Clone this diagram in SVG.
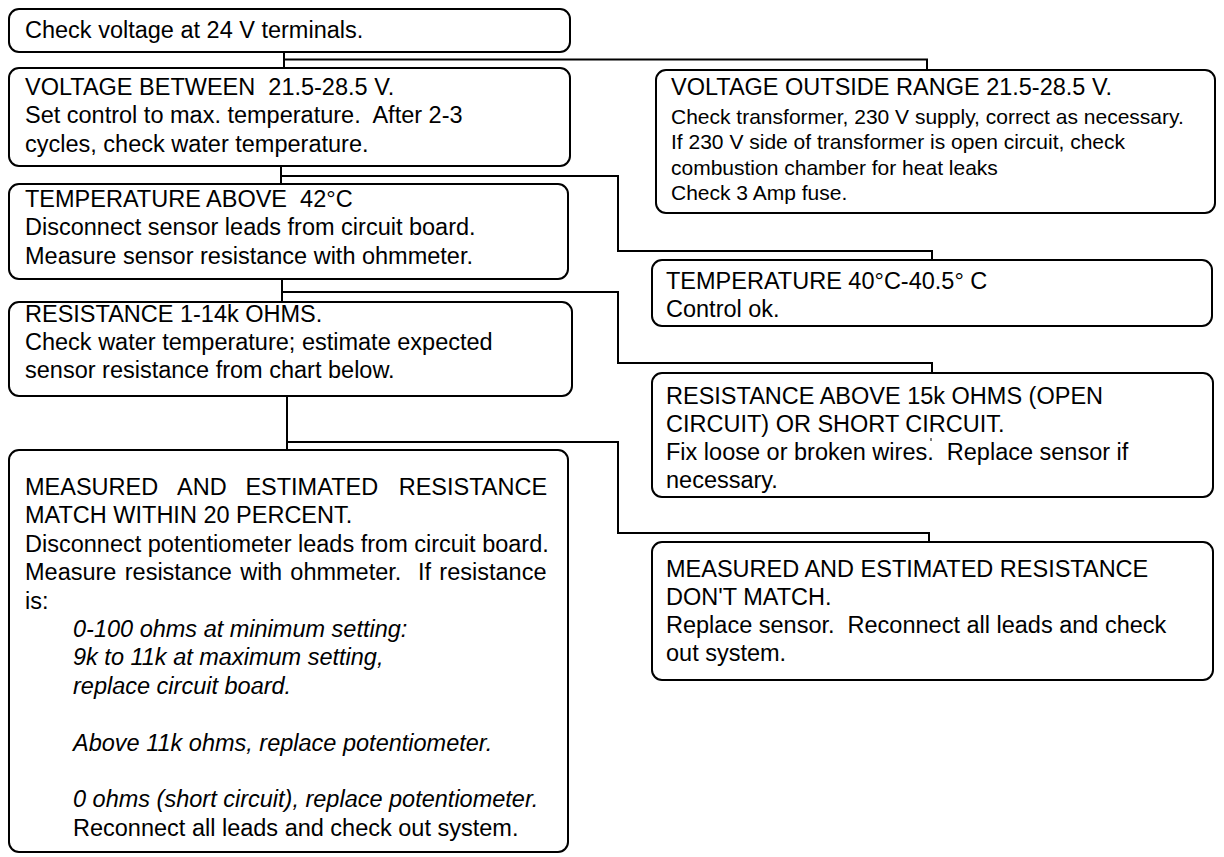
<svg xmlns="http://www.w3.org/2000/svg" width="1224" height="857" viewBox="0 0 1224 857">
<style>
.box{fill:#fff;stroke:#000;stroke-width:2}
.con{fill:none;stroke:#000;stroke-width:2}
text{font-family:"Liberation Sans",Arial,Helvetica,sans-serif;font-size:23.5px;fill:#000;white-space:pre}
.sm{font-size:21px}
.it{font-style:italic}
</style>
<rect width="1224" height="857" fill="#fff"/>
<g id="connectors">
<polyline class="con" points="284,52 284,68"/>
<polyline class="con" points="284,59.5 927,59.5 927,70"/>
<polyline class="con" points="281,166 281,184"/>
<polyline class="con" points="281,176 618,176 618,251 932,251 932,260"/>
<polyline class="con" points="282,279 282,302"/>
<polyline class="con" points="282,292 618,292 618,363 932,363 932,373"/>
<polyline class="con" points="287,396 287,450"/>
<polyline class="con" points="287,442 618,442 618,533 929,533 929,542"/>
</g>
<g id="n1">
<rect class="box" x="9" y="9" width="561" height="43" rx="10"/>
<text x="25" y="38">Check voltage at 24 V terminals.</text>
</g>
<g id="n2">
<rect class="box" x="9" y="68" width="561" height="98" rx="10"/>
<text x="25" y="95">VOLTAGE BETWEEN  21.5-28.5 V.</text>
<text x="25" y="123.3">Set control to max. temperature.  After 2-3</text>
<text x="25" y="151.6">cycles, check water temperature.</text>
</g>
<g id="n3">
<rect class="box" x="9" y="184" width="559" height="95" rx="10"/>
<text x="25" y="207">TEMPERATURE ABOVE  42°C</text>
<text x="25" y="235.3">Disconnect sensor leads from circuit board.</text>
<text x="25" y="263.6">Measure sensor resistance with ohmmeter.</text>
</g>
<g id="n4">
<rect class="box" x="9" y="302" width="563" height="94" rx="10"/>
<text x="25" y="321.7">RESISTANCE 1-14k OHMS.</text>
<text x="25" y="350">Check water temperature; estimate expected</text>
<text x="25" y="378.3">sensor resistance from chart below.</text>
</g>
<g id="n5">
<rect class="box" x="9" y="450" width="559" height="402" rx="10"/>
<text y="495"><tspan x="25">MEASURED</tspan><tspan x="177">AND</tspan><tspan x="245.4">ESTIMATED</tspan><tspan x="398.7">RESISTANCE</tspan></text>
<text x="25" y="523.4">MATCH WITHIN 20 PERCENT.</text>
<text x="25" y="551.8">Disconnect potentiometer leads from circuit board.</text>
<text x="25" y="580.2" word-spacing="1.8">Measure resistance with ohmmeter.  If resistance</text>
<text x="25" y="608.6">is:</text>
<text class="it" x="73" y="637">0-100 ohms at minimum setting:</text>
<text class="it" x="73" y="665.4">9k to 11k at maximum setting,</text>
<text class="it" x="73" y="693.8">replace circuit board.</text>
<text class="it" x="73" y="750.6">Above 11k ohms, replace potentiometer.</text>
<text class="it" x="73" y="807.4">0 ohms (short circuit), replace potentiometer.</text>
<text x="73" y="835.8">Reconnect all leads and check out system.</text>
</g>
<g id="nA">
<rect class="box" x="656" y="70" width="559" height="143" rx="10"/>
<text x="671" y="95">VOLTAGE OUTSIDE RANGE 21.5-28.5 V.</text>
<text class="sm" x="671" y="123.5">Check transformer, 230 V supply, correct as necessary.</text>
<text class="sm" x="671" y="149">If 230 V side of transformer is open circuit, check</text>
<text class="sm" x="671" y="174.5">combustion chamber for heat leaks</text>
<text class="sm" x="671" y="200">Check 3 Amp fuse.</text>
</g>
<g id="nB">
<rect class="box" x="652" y="260" width="560" height="66" rx="10"/>
<text x="666" y="288.5">TEMPERATURE 40°C-40.5° C</text>
<text x="666" y="316.7">Control ok.</text>
</g>
<g id="nC">
<rect class="box" x="652" y="373" width="561" height="124" rx="10"/>
<text x="666" y="404">RESISTANCE ABOVE 15k OHMS (OPEN</text>
<text x="666" y="432">CIRCUIT) OR SHORT CIRCUIT.</text>
<text x="666" y="460">Fix loose or broken wires.  Replace sensor if</text>
<text x="666" y="488">necessary.</text>
<line x1="931" y1="438" x2="931" y2="441" stroke="#000" stroke-width="1"/>
</g>
<g id="nD">
<rect class="box" x="652" y="542" width="561" height="138" rx="10"/>
<text x="666" y="577">MEASURED AND ESTIMATED RESISTANCE</text>
<text x="666" y="605">DON'T MATCH.</text>
<text x="666" y="633.3">Replace sensor.  Reconnect all leads and check</text>
<text x="666" y="661">out system.</text>
</g>
</svg>
